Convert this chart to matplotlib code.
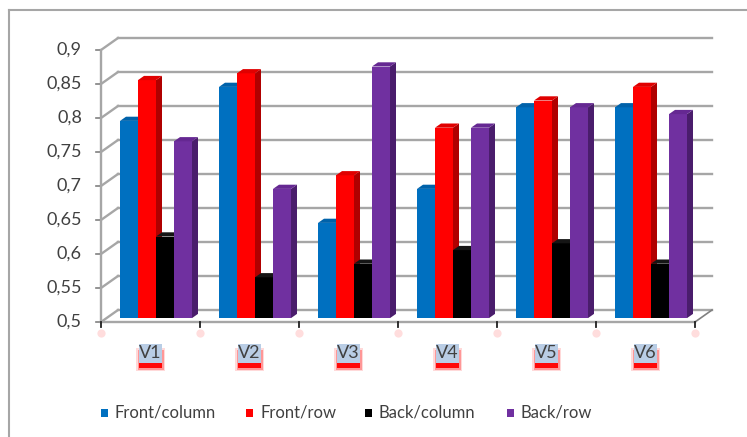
import matplotlib.pyplot as plt
from matplotlib.patches import Polygon, Rectangle
from matplotlib.lines import Line2D

plt.rcParams['font.family'] = ['Lato', 'DejaVu Sans']

categories = ['V1', 'V2', 'V3', 'V4', 'V5', 'V6']
series_names = ['Front/column', 'Front/row', 'Back/column', 'Back/row']
front_column = [0.79, 0.84, 0.64, 0.69, 0.81, 0.81]
front_row = [0.85, 0.86, 0.71, 0.78, 0.82, 0.84]
back_column = [0.62, 0.56, 0.58, 0.60, 0.61, 0.58]
back_row = [0.76, 0.69, 0.87, 0.78, 0.81, 0.80]
y_ticks = [0.5, 0.55, 0.6, 0.65, 0.7, 0.75, 0.8, 0.85, 0.9]
y_labels = ['0,5', '0,55', '0,6', '0,65', '0,7', '0,75', '0,8', '0,85', '0,9']

series = [front_column, front_row, back_column, back_row]
# front, side, top colours for each series
face_cols = ['#0070c0', '#ff0000', '#000000', '#7030a0']
side_cols = ['#004f8c', '#b00000', '#000000', '#4a1d6c']
top_cols = ['#0062aa', '#e00000', '#151515', '#652892']

W, H = 747, 437
fig = plt.figure(figsize=(W / 100, H / 100), dpi=100)
ax = fig.add_axes([0, 0, 1, 1])

# pixel layout of the plot box
x0_px, cat_px = 101, 99
y0_px, unit_px = 322, 680
ax.set_xlim(-x0_px / cat_px, (W - x0_px) / cat_px)
ax.set_ylim(0.5 - (H - y0_px) / unit_px, 0.5 + y0_px / unit_px)
ax.axis('off')

px = lambda p: p / cat_px
py = lambda p: p / unit_px

# depth of the walls and of the bars
wdx, wdy = px(17), py(12)
bdx, bdy = px(6), py(4.2)
fx, fy = px(5.5), py(3.9)
bw = px(18)
group_off = px(13.5)
n = len(categories)
grid_col = '#a6a6a6'

# back wall and side wall gridlines
for v, lab in zip(y_ticks, y_labels):
    ax.plot([wdx, n + wdx], [v + wdy, v + wdy], color=grid_col, lw=1.7, zorder=1)
    ax.plot([0, wdx], [v, v + wdy], color=grid_col, lw=1.7, zorder=1)
    ax.plot([-px(5), 0], [v, v], color='#808080', lw=1.2, zorder=1)
    ax.text(-px(19), v, lab, ha='right', va='center', fontsize=13, color='#404040')

# floor edges and value axis line
ax.plot([0, n], [0.5, 0.5], color=grid_col, lw=1.7, zorder=1)
ax.plot([n, n + wdx], [0.5, 0.5 + wdy], color='#808080', lw=1.2, zorder=1)
ax.plot([0, 0], [0.5, 0.9], color=grid_col, lw=1.7, zorder=1)

# 3d columns
z = 2
for c in range(n):
    for s, vals in enumerate(series):
        v = vals[c]
        x = c + group_off + fx + s * bw
        b = 0.5 + fy
        top = v + fy
        ax.bar(x, top - b, bottom=b, width=bw, align='edge',
               color=face_cols[s], lw=0, zorder=z)
        ax.add_patch(Polygon([[x + bw, b], [x + bw + bdx, b + bdy],
                              [x + bw + bdx, top + bdy], [x + bw, top]],
                             closed=True, color=side_cols[s], lw=0, zorder=z))
        ax.add_patch(Polygon([[x, top], [x + bw, top], [x + bw + bdx, top + bdy],
                              [x + bdx, top + bdy]],
                             closed=True, color=top_cols[s], lw=0, zorder=z))
        z += 1

# category ticks with their soft red glow
for i in range(n + 1):
    ax.plot([i, i], [0.5, 0.5 - py(5)], color='#202020', lw=1.3, zorder=z)
    ax.scatter(i, 0.5 - py(11), s=35, color='#ff9090', alpha=0.3, lw=0, zorder=z)

# category labels with blue highlight and red shadow below
for i, name in enumerate(categories):
    cx, cy = i + 0.5, 0.5 - py(31)
    for grow, a in [(3, 0.15), (1.5, 0.3), (0, 0.95)]:
        ax.add_patch(Rectangle((cx - px(11.5 + grow), cy - py(15 + grow)),
                               px(23 + 2 * grow), py(17 + 2 * grow),
                               color='#ff0000', alpha=a, lw=0, zorder=z))
    ax.add_patch(Rectangle((cx - px(11.5), cy - py(9.5)), px(23), py(19),
                           color='#b9cde5', lw=0, zorder=z + 1))
    ax.text(cx, cy, name, ha='center', va='center', fontsize=13,
            color='#404040', zorder=z + 2)

# legend
leg_x = [101, 246, 365, 507]
for name, col, lx in zip(series_names, face_cols, leg_x):
    fig.add_artist(Rectangle((lx / W, 1 - 417 / H), 7 / W, 8 / H,
                             transform=fig.transFigure, color=col, lw=0))
    fig.text((lx + 14) / W, 1 - 413 / H, name, ha='left', va='center',
             fontsize=12, color='#404040')

# outer chart frame
fig.add_artist(Line2D([9 / W, 9 / W], [0, 1 - 10 / H], transform=fig.transFigure,
                      color='#a6a6a6', lw=1.5))
fig.add_artist(Line2D([9 / W, 1], [1 - 10 / H, 1 - 10 / H], transform=fig.transFigure,
                      color='#a6a6a6', lw=1.5))

fig.savefig('out.png', dpi=100)
